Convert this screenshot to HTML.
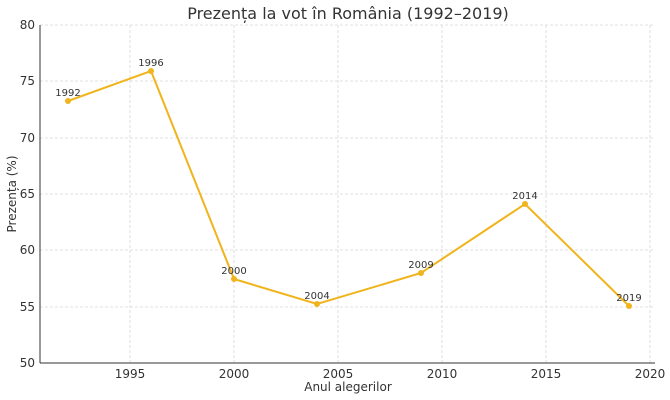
<!DOCTYPE html>
<html><head><meta charset="utf-8"><style>
body{margin:0;background:#fff;}
svg{display:block;font-family:"DejaVu Sans","Liberation Sans",sans-serif;}
</style></head><body>
<svg width="670" height="400" viewBox="0 0 670 400">
<rect width="670" height="400" fill="#fff"/>
<text x="348" y="19" font-size="16" fill="#333" text-anchor="middle">Prezența la vot în România (1992–2019)</text>
<g stroke="#d8d8d8" stroke-width="0.8" stroke-dasharray="3,2">
<line x1="130" y1="25" x2="130" y2="363"/><line x1="234" y1="25" x2="234" y2="363"/>
<line x1="338" y1="25" x2="338" y2="363"/><line x1="442" y1="25" x2="442" y2="363"/>
<line x1="546" y1="25" x2="546" y2="363"/><line x1="650" y1="25" x2="650" y2="363"/>
<line x1="40" y1="25" x2="655" y2="25"/><line x1="40" y1="81" x2="655" y2="81"/>
<line x1="40" y1="138" x2="655" y2="138"/><line x1="40" y1="194" x2="655" y2="194"/>
<line x1="40" y1="250" x2="655" y2="250"/><line x1="40" y1="307" x2="655" y2="307"/>
</g>
<line x1="40" y1="25" x2="40" y2="363" stroke="#333" stroke-width="1"/>
<line x1="40" y1="363" x2="655" y2="363" stroke="#333" stroke-width="1"/>
<g font-size="12" fill="#333" text-anchor="end">
<text x="35" y="29">80</text><text x="35" y="85">75</text><text x="35" y="142">70</text>
<text x="35" y="198">65</text><text x="35" y="254">60</text><text x="35" y="311">55</text><text x="35" y="367">50</text>
</g>
<g font-size="12" fill="#333" text-anchor="middle">
<text x="130" y="378">1995</text><text x="234" y="378">2000</text><text x="338" y="378">2005</text>
<text x="442" y="378">2010</text><text x="546" y="378">2015</text><text x="650" y="378">2020</text>
</g>
<text x="348" y="391" font-size="12" fill="#333" text-anchor="middle">Anul alegerilor</text>
<text transform="translate(16,194) rotate(-90)" font-size="12" fill="#333" text-anchor="middle">Prezența (%)</text>
<polyline fill="none" stroke="#f0b41c" stroke-width="2" points="68,101 151,71 234,279 317,304 421,273 525,204 629,306"/>
<g fill="#f0b41c">
<circle cx="68" cy="101" r="3"/><circle cx="151" cy="71" r="3"/><circle cx="234" cy="279" r="3"/>
<circle cx="317" cy="304" r="3"/><circle cx="421" cy="273" r="3"/><circle cx="525" cy="204" r="3"/><circle cx="629" cy="306" r="3"/>
</g>
<g font-size="10" fill="#333" text-anchor="middle">
<text x="68" y="96">1992</text><text x="151" y="66">1996</text><text x="234" y="274">2000</text>
<text x="317" y="299">2004</text><text x="421" y="268">2009</text><text x="525" y="199">2014</text><text x="629" y="301">2019</text>
</g>
</svg>
</body></html>
